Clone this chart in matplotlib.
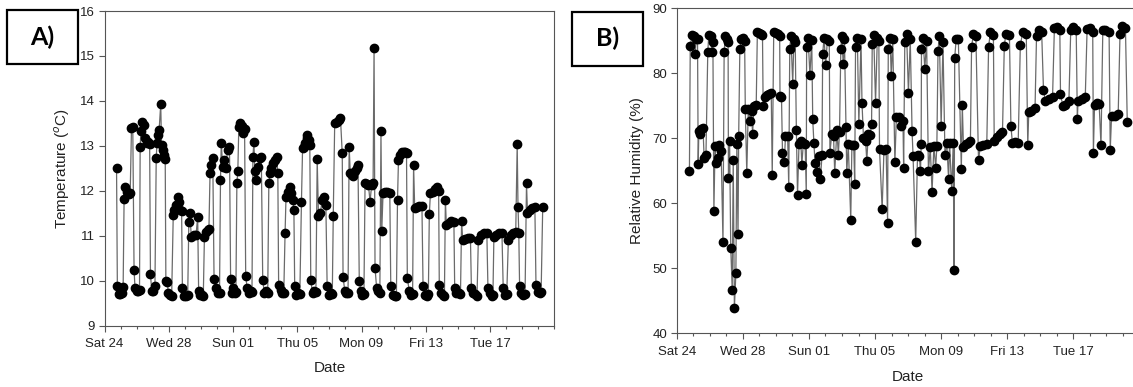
import matplotlib
matplotlib.use("Agg")
import matplotlib.pyplot as plt
from matplotlib.patches import Rectangle

plt.rcParams["font.family"] = ["Liberation Sans", "DejaVu Sans"]

# days since Sat 24 (00:00)
tick_days = [0, 4, 8, 12, 16, 20, 24]
tick_labels = ["Sat 24", "Wed 28", "Sun 01", "Thu 05", "Mon 09", "Fri 13", "Tue 17"]

# (A) temperature logger
temp_day = [
    0.75, 0.80, 0.88, 0.98, 1.08, 1.16, 1.22, 1.30, 1.40, 1.50, 1.60, 1.68, 1.76,
    1.84, 1.90, 2.00, 2.10, 2.18, 2.22, 2.27, 2.36, 2.44, 2.52, 2.62, 2.72, 2.81,
    2.86, 2.94, 3.04, 3.14, 3.22, 3.27, 3.33, 3.40, 3.50, 3.55, 3.63, 3.71, 3.78,
    3.82, 3.90, 3.98, 4.08, 4.18, 4.28, 4.34, 4.44, 4.56, 4.64, 4.73, 4.80,
    4.85, 4.95, 5.07, 5.18, 5.25, 5.32, 5.40, 5.55, 5.70, 5.80,
    5.86, 5.96, 6.06, 6.15, 6.22, 6.32, 6.42, 6.50, 6.57, 6.65, 6.74,
    6.82, 6.94, 7.05, 7.16, 7.22, 7.27, 7.36, 7.46, 7.54, 7.66, 7.78,
    7.85, 7.91, 8.00, 8.10, 8.18, 8.24, 8.30, 8.36, 8.46, 8.56, 8.64, 8.72,
    8.79, 8.88, 8.98, 9.10, 9.18, 9.24, 9.30, 9.36, 9.45, 9.55, 9.65, 9.76,
    9.85, 9.95, 10.06, 10.16, 10.23, 10.31, 10.39, 10.49, 10.60, 10.71, 10.79,
    10.84, 10.96, 11.06, 11.16, 11.24, 11.30, 11.42, 11.52, 11.62, 11.72, 11.79,
    11.84, 11.94, 12.05, 12.16, 12.26, 12.33, 12.42, 12.50, 12.58, 12.63, 12.71, 12.78,
    12.84, 12.95, 13.06, 13.16, 13.24, 13.32, 13.44, 13.55, 13.66, 13.78,
    13.86, 13.98, 14.10, 14.18, 14.24, 14.33, 14.45, 14.57, 14.69, 14.80,
    14.85, 14.96, 15.06, 15.16, 15.23, 15.30, 15.40, 15.50, 15.60, 15.69, 15.78,
    15.86, 15.96, 16.06, 16.15, 16.22, 16.32, 16.43, 16.53, 16.63, 16.72, 16.78,
    16.84, 16.94, 17.04, 17.14, 17.21, 17.26, 17.34, 17.46, 17.60, 17.76,
    17.82, 17.94, 18.06, 18.17, 18.24, 18.30, 18.40, 18.50, 18.62, 18.72, 18.80,
    18.85, 18.97, 19.08, 19.18, 19.24, 19.31, 19.45, 19.60, 19.76,
    19.83, 19.96, 20.08, 20.16, 20.22, 20.29, 20.42, 20.58, 20.70, 20.80,
    20.84, 20.93, 21.05, 21.16, 21.22, 21.28, 21.42, 21.60, 21.75,
    21.80, 21.91, 22.04, 22.16, 22.23, 22.30, 22.46, 22.62, 22.78,
    22.84, 22.95, 23.08, 23.19, 23.27, 23.42, 23.60, 23.80,
    23.87, 23.98, 24.10, 24.18, 24.24, 24.38, 24.54, 24.74,
    24.82, 24.93, 25.04, 25.14, 25.28, 25.44, 25.60, 25.69, 25.74, 25.79,
    25.84, 25.95, 26.08, 26.18, 26.27, 26.33, 26.48, 26.64, 26.79,
    26.86, 26.96, 27.08, 27.18, 27.28,
]
temp_val = [
    12.50, 9.89, 9.70, 9.70, 9.72, 9.85, 11.82, 12.09, 11.98, 11.93, 11.96, 13.39, 13.41,
    10.24, 9.83, 9.78, 9.76, 9.79, 12.98, 13.34, 13.52, 13.46, 13.17, 13.06, 13.09, 13.04,
    10.14, 9.78, 9.76, 9.87, 12.74, 13.06, 13.24, 13.35, 13.93, 13.02, 12.91, 12.80, 12.70,
    10.00, 9.98, 9.72, 9.68, 9.65, 11.46, 11.57, 11.68, 11.87, 11.76, 11.57, 11.54,
    9.83, 9.66, 9.66, 9.68, 11.31, 11.50, 10.98, 11.02, 11.02, 11.42,
    9.76, 9.68, 9.68, 9.66, 10.98, 11.09, 11.13, 11.14, 12.39, 12.58, 12.72,
    10.03, 9.83, 9.72, 9.73, 12.24, 13.06, 12.52, 12.69, 12.50, 12.91, 12.98,
    10.03, 9.72, 9.83, 9.72, 9.75, 12.17, 12.44, 13.41, 13.50, 13.44, 13.28, 13.37,
    10.10, 9.83, 9.72, 9.76, 9.74, 12.76, 13.09, 12.43, 12.24, 12.54, 12.72, 12.76,
    10.02, 9.72, 9.76, 9.72, 12.17, 12.39, 12.50, 12.61, 12.69, 12.76, 12.39,
    9.90, 9.79, 9.72, 9.73, 11.05, 11.87, 11.98, 12.09, 11.95, 11.80, 11.57,
    9.87, 9.68, 9.72, 9.70, 11.76, 12.95, 12.98, 13.06, 13.17, 13.24, 13.13, 13.02,
    10.02, 9.72, 9.76, 9.74, 12.70, 11.43, 11.50, 11.80, 11.87, 11.68,
    9.87, 9.68, 9.72, 9.70, 11.44, 13.50, 13.54, 13.58, 13.61, 12.83,
    10.09, 9.76, 9.72, 9.73, 12.98, 12.39, 12.35, 12.33, 12.43, 12.50, 12.58,
    9.99, 9.76, 9.68, 9.70, 12.17, 12.15, 12.13, 11.76, 12.13, 12.17, 15.17,
    10.29, 9.83, 9.76, 9.72, 13.32, 11.11, 11.95, 11.98, 11.98, 11.95,
    9.89, 9.68, 9.66, 9.65, 11.80, 12.69, 12.80, 12.87, 12.87, 12.87, 12.85,
    10.07, 9.76, 9.68, 9.70, 12.58, 11.61, 11.65, 11.67, 11.67,
    9.87, 9.68, 9.66, 9.70, 11.48, 11.95, 11.98, 12.03, 12.09, 12.00,
    9.90, 9.72, 9.68, 9.66, 11.80, 11.24, 11.29, 11.33, 11.31,
    9.83, 9.73, 9.72, 9.70, 11.33, 10.90, 10.92, 10.94, 10.94,
    9.83, 9.73, 9.70, 9.66, 10.90, 11.02, 11.05, 11.07,
    9.83, 9.72, 9.66, 9.68, 10.98, 11.02, 11.05, 11.07,
    9.83, 9.68, 9.70, 10.90, 11.02, 11.07, 11.09, 13.03, 11.65, 11.05,
    9.87, 9.72, 9.68, 9.70, 12.17, 11.50, 11.57, 11.62, 11.65,
    9.90, 9.75, 9.73, 9.75, 11.65,
]

# (B) relative humidity logger
rh_day = [
    0.77, 0.82, 0.93, 1.04, 1.12, 1.18, 1.26, 1.30, 1.34, 1.43, 1.50, 1.59, 1.66, 1.77,
    1.88, 1.94, 2.05, 2.12, 2.19, 2.25, 2.32, 2.38, 2.47, 2.58, 2.69, 2.80,
    2.87, 2.94, 3.05, 3.11, 3.13, 3.20, 3.27, 3.36, 3.42, 3.49, 3.58, 3.64, 3.71, 3.75,
    3.82, 3.91, 4.02, 4.11, 4.15, 4.24, 4.33, 4.42, 4.53, 4.59, 4.68, 4.81,
    4.88, 4.99, 5.10, 5.19, 5.23, 5.34, 5.47, 5.61, 5.72, 5.78,
    5.87, 5.98, 6.11, 6.23, 6.25, 6.34, 6.40, 6.51, 6.58, 6.71, 6.78,
    6.84, 6.91, 7.02, 7.09, 7.17, 7.24, 7.31, 7.40, 7.51, 7.57, 7.66, 7.77, 7.84,
    7.86, 7.95, 8.06, 8.17, 8.23, 8.30, 8.37, 8.48, 8.59, 8.70, 8.79,
    8.83, 8.92, 9.01, 9.12, 9.23, 9.27, 9.38, 9.49, 9.56, 9.69, 9.78, 9.85,
    9.93, 10.00, 10.07, 10.15, 10.24, 10.29, 10.38, 10.53, 10.60, 10.71, 10.77,
    10.82, 10.93, 11.02, 11.15, 11.21, 11.30, 11.43, 11.50, 11.59, 11.70, 11.79,
    11.83, 11.92, 12.03, 12.14, 12.23, 12.27, 12.43, 12.54, 12.67, 12.76,
    12.80, 12.91, 12.98, 13.07, 13.20, 13.29, 13.47, 13.58, 13.69, 13.73,
    13.80, 13.91, 14.02, 14.13, 14.24, 14.30, 14.46, 14.57, 14.68, 14.75, 14.79,
    14.81, 14.90, 15.01, 15.12, 15.23, 15.34, 15.45, 15.56, 15.67, 15.74,
    15.81, 15.89, 16.00, 16.11, 16.23, 16.34, 16.45, 16.51, 16.64, 16.73, 16.78,
    16.82, 16.91, 17.04, 17.22, 17.28, 17.35, 17.48, 17.61, 17.77,
    17.84, 17.95, 18.10, 18.26, 18.37, 18.54, 18.76,
    18.87, 18.98, 19.16, 19.21, 19.38, 19.54, 19.71,
    19.82, 19.91, 20.13, 20.22, 20.31, 20.49, 20.66,
    20.79, 20.93, 21.15, 21.24, 21.30, 21.46, 21.68,
    21.77, 21.90, 22.08, 22.19, 22.30, 22.52, 22.74,
    22.85, 23.00, 23.18, 23.22, 23.36, 23.51, 23.73,
    23.84, 23.97, 24.17, 24.24, 24.28, 24.50, 24.72,
    24.83, 24.99, 25.17, 25.21, 25.28, 25.43, 25.56, 25.67,
    25.78, 25.94, 26.16, 26.23, 26.31, 26.49, 26.71,
    26.82, 26.93, 27.15, 27.26,
]
rh_val = [
    65.0, 84.2, 85.9, 85.8, 83.0, 85.3, 85.2, 66.0, 71.1, 70.6, 71.4, 71.6, 67.0, 67.4,
    83.2, 85.9, 85.7, 83.2, 84.8, 58.8, 68.8, 66.2, 67.0, 68.9, 68.0, 54.0,
    83.2, 85.7, 85.3, 84.8, 63.9, 69.6, 53.1, 46.7, 66.7, 43.9, 49.2, 69.1, 55.2, 70.4,
    83.7, 85.3, 85.4, 85.0, 74.5, 64.6, 74.5, 72.7, 74.2, 70.7, 75.0, 75.1,
    86.3, 86.2, 86.0, 85.9, 74.9, 76.4, 76.6, 76.8, 76.9, 64.3,
    86.3, 86.2, 86.0, 85.8, 76.5, 76.3, 67.8, 66.3, 70.3, 70.4, 62.5,
    83.8, 85.7, 78.4, 85.2, 84.8, 71.3, 61.3, 69.1, 69.6, 65.9, 69.2, 69.1, 61.4,
    84.1, 85.5, 79.8, 85.1, 72.9, 69.3, 66.2, 64.8, 67.3, 63.8, 67.4,
    83.0, 85.5, 81.2, 85.2, 84.9, 67.8, 70.6, 70.3, 64.7, 71.2, 67.5, 71.0,
    83.8, 85.7, 81.5, 85.2, 71.8, 64.7, 69.1, 57.5, 68.9, 69.0, 63.0,
    84.1, 85.5, 72.2, 85.2, 75.5, 70.1, 69.6, 66.5, 70.6, 70.5, 72.2,
    84.5, 85.9, 75.5, 85.5, 85.0, 68.3, 59.1, 68.2, 68.3, 57.0,
    83.7, 85.5, 79.6, 85.3, 66.3, 73.2, 73.3, 71.9, 72.7, 65.5,
    84.8, 86.0, 77.0, 85.3, 71.1, 67.3, 54.1, 67.5, 67.3, 64.9, 69.1,
    83.7, 85.5, 80.7, 85.0, 64.9, 68.6, 61.8, 68.8, 65.5, 68.8,
    83.5, 85.8, 71.9, 84.8, 67.5, 69.3, 63.7, 69.3, 61.9, 69.2, 49.8,
    82.4, 85.3, 85.2, 65.2, 75.1, 68.6, 69.1, 69.3, 69.6,
    84.1, 86.0, 85.8, 66.6, 68.8, 68.9, 69.1,
    84.1, 86.3, 85.9, 69.6, 70.2, 70.6, 70.9,
    84.2, 86.0, 85.9, 71.9, 69.3, 69.4, 69.3,
    84.3, 86.3, 86.0, 68.9, 74.0, 74.2, 74.6,
    85.8, 86.7, 86.4, 77.5, 75.8, 76.1, 76.4,
    86.9, 87.1, 86.7, 76.8, 75.0, 75.1, 75.8,
    86.7, 87.1, 86.7, 72.9, 75.8, 76.0, 76.4,
    86.8, 86.9, 86.4, 67.8, 75.1, 75.5, 75.2, 68.9,
    86.6, 86.7, 86.3, 68.2, 73.4, 73.5, 73.7,
    86.0, 87.2, 86.9, 72.5,
]

LINE = "#6a6a6a"
SPINE = "#555555"
TEXT = "#222222"

fig = plt.figure(figsize=(11.33, 3.87), dpi=100)
W, H = 1133.0, 387.0


def px_axes(x0, x1, ytop, ybot):
    return fig.add_axes([x0 / W, 1 - ybot / H, (x1 - x0) / W, (ybot - ytop) / H])


def style(ax, right_spine=True):
    for side in ("left", "bottom", "top", "right"):
        ax.spines[side].set_color(SPINE)
        ax.spines[side].set_linewidth(0.8)
    ax.spines["right"].set_visible(right_spine)
    ax.set_xlim(0, 28)
    ax.set_xticks(tick_days)
    ax.set_xticklabels(tick_labels)
    ax.set_xticks(range(0, 29), minor=True)
    ax.tick_params(axis="both", which="major", direction="out", length=4,
                   width=0.8, color=SPINE, labelsize=9.5, labelcolor=TEXT)
    ax.tick_params(axis="x", which="minor", direction="out", length=2.5,
                   width=0.8, color=SPINE)
    ax.tick_params(axis="x", which="major", pad=5)
    ax.tick_params(axis="y", which="major", pad=3)
    ax.tick_params(top=False, right=False)


def panel_box(x0, y0, x1, y1, label):
    fig.patches.append(Rectangle((x0 / W, 1 - y1 / H), (x1 - x0) / W, (y1 - y0) / H,
                                 transform=fig.transFigure, fill=False,
                                 edgecolor="black", linewidth=1.6))
    fig.text((x0 + x1) / 2 / W, 1 - (y0 + y1) / 2 / H, label, ha="center",
             va="center", fontsize=18, fontweight="bold", family="Lato")


# (A)
ax_a = px_axes(104.5, 554.3, 11, 325.6)
ax_a.plot(temp_day, temp_val, color=LINE, lw=0.9, zorder=1)
ax_a.plot(temp_day, temp_val, "o", color="black", ms=6, zorder=2)
ax_a.set_ylim(9, 16)
ax_a.set_yticks(range(9, 17))
style(ax_a)
ax_a.set_xlabel("Date", fontsize=11, color=TEXT, labelpad=8)
ax_a.set_ylabel("Temperature ($^{o}$C)", fontsize=11, color=TEXT, labelpad=6)

# (B)
ax_b = px_axes(676.7, 1139.5, 8.3, 333.3)
ax_b.plot(rh_day, rh_val, color=LINE, lw=0.9, zorder=1)
ax_b.plot(rh_day, rh_val, "o", color="black", ms=6, zorder=2)
ax_b.set_ylim(40, 90)
ax_b.set_yticks(range(40, 91, 10))
style(ax_b, right_spine=False)
ax_b.set_xlabel("Date", fontsize=11, color=TEXT, labelpad=9)
ax_b.set_ylabel("Relative Humidity (%)", fontsize=11, color=TEXT, labelpad=6)

panel_box(6.5, 10, 78, 64, "A)")
panel_box(571.7, 11.7, 643.2, 65.7, "B)")

fig.savefig("out.png", dpi=100)
